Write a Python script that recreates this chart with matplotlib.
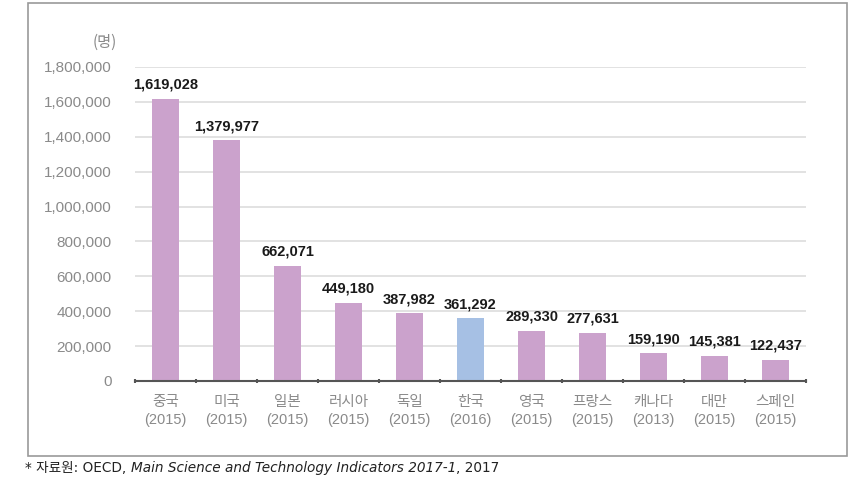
import matplotlib
matplotlib.use("Agg")
import matplotlib.pyplot as plt
import matplotlib.patches as patches
from matplotlib import font_manager

countries = ["중국", "미국", "일본", "러시아", "독일", "한국", "영국", "프랑스", "캐나다", "대만", "스페인"]
years = ["2015", "2015", "2015", "2015", "2015", "2016", "2015", "2015", "2013", "2015", "2015"]
researchers = [1619028, 1379977, 662071, 449180, 387982, 361292, 289330, 277631, 159190, 145381, 122437]
highlight = "한국"

names = {f.name for f in font_manager.fontManager.ttflist}
narrow = "Liberation Sans Narrow" if "Liberation Sans Narrow" in names else "Liberation Sans"
num_font = [narrow, "Noto Sans CJK KR"]
kr_font = ["Noto Sans CJK KR", "DejaVu Sans"]
note_font = ["DejaVu Sans", "Noto Sans CJK KR"]

pink = "#cba2cc"
blue = "#a6c0e4"
gray = "#8a8a8a"

fig = plt.figure(figsize=(8.6, 4.82), dpi=100)
W, H = 860, 482
ax = fig.add_axes([135 / W, 1 - 381 / H, (806 - 135) / W, (381 - 67) / H])

x = list(range(len(countries)))
colors = [blue if c == highlight else pink for c in countries]
ax.bar(x, researchers, width=0.43, color=colors, zorder=3)

for xi, v in zip(x, researchers):
    ax.annotate(f"{v:,}", (xi, v), xytext=(0, 5), textcoords="offset points",
                ha="center", va="bottom", fontsize=10.5, family=num_font,
                fontweight="bold", color="#1a1a1a")

ax.set_xlim(-0.5, len(countries) - 0.5)
ax.set_ylim(0, 1800000)
ax.set_yticks(range(0, 1800001, 200000))
ax.set_yticklabels([f"{t:,}" for t in range(0, 1800001, 200000)], family=num_font,
                   fontsize=11, color=gray)
ax.yaxis.grid(True, color="#dddddd", lw=1.2, zorder=0)
ax.tick_params(axis="y", length=0, pad=17)

ax.set_xticks([i - 0.5 for i in range(len(countries) + 1)])
ax.set_xticklabels([])
ax.tick_params(axis="x", length=3, width=1.5, color="#555555", direction="inout")
for xi, c, yr in zip(x, countries, years):
    ax.annotate(c, (xi, 0), xytext=(0, -15), textcoords="offset points", ha="center",
                va="center", fontsize=10.5, family=kr_font, color=gray, annotation_clip=False)
    ax.annotate(f"({yr})", (xi, 0), xytext=(0, -28), textcoords="offset points", ha="center",
                va="center", fontsize=10.5, family=num_font, color=gray, annotation_clip=False)

for s in ["top", "right", "left"]:
    ax.spines[s].set_visible(False)
ax.spines["bottom"].set_color("#555555")
ax.spines["bottom"].set_linewidth(1.5)
ax.spines["bottom"].set_zorder(4)

fig.text(117 / W, 1 - 42 / H, "(명)", ha="right", va="center", fontsize=11,
         family=kr_font, color=gray)

fig.patches.append(patches.Rectangle((28 / W, 1 - 456 / H), (847 - 28) / W, (456 - 3) / H,
                                     transform=fig.transFigure, fill=False,
                                     edgecolor="#9a9a9a", lw=1.2))

y_note = 1 - 468 / H
t1 = fig.text(25 / W, y_note, "* 자료원: OECD, ", ha="left", va="center",
              fontsize=9.8, family=note_font, color="#222222")
t2 = fig.text(0, y_note, "Main Science and Technology Indicators 2017-1", fontsize=9.8,
              family=note_font, style="italic", va="center", color="#222222")
fig.canvas.draw()
inv = fig.transFigure.inverted()
t2.set_x(inv.transform((t1.get_window_extent().x1, 0))[0])
fig.canvas.draw()
x3 = inv.transform((t2.get_window_extent().x1, 0))[0]
fig.text(x3, y_note, ", 2017", ha="left", va="center", fontsize=9.8,
         family=note_font, color="#222222")

fig.savefig("out.png", dpi=100)
